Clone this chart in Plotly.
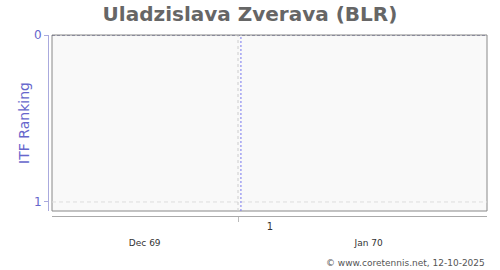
import plotly.graph_objects as go

# ---- data ----
player_title = "Uladzislava Zverava (BLR)"
rank_dates = []          # no ranking points recorded
rank_values = []
x_range = ["1969-12-02 10:00", "1970-02-02 14:00"]
month_ticks = ["1969-12-15 16:00", "1970-01-16 16:00"]
month_labels = ["Dec 69", "Jan 70"]
week_ticks = ["1969-12-29 00:00"]
week_labels = ["1"]
marker_dates = ["1969-12-29 10:00"]
y_ticks = [0, 1]
y_range = [1.054, 0]
credit = "© www.coretennis.net, 12-10-2025"

W, H = 500, 270
ml, mr, mt, mb = 48, 13, 35, 54
pw = W - ml - mr
ph = H - mt - mb
x0 = 4 / pw
y0 = 5 / ph

fig = go.Figure()
fig.add_trace(go.Scatter(x=rank_dates, y=rank_values, mode="lines+markers",
                         line=dict(color="#6666cc"), showlegend=False))
fig.add_trace(go.Scatter(x=month_ticks, y=[None] * len(month_ticks), xaxis="x2",
                         mode="markers", showlegend=False, hoverinfo="skip"))

fig.update_layout(
    width=W, height=H,
    margin=dict(l=ml, r=mr, t=mt, b=mb),
    paper_bgcolor="white", plot_bgcolor="white",
    font=dict(family="DejaVu Sans", size=10, color="#333"),
    title=dict(text="<b>" + player_title + "</b>", x=0.5, xanchor="center",
               y=1 - 14 / H, yanchor="middle",
               font=dict(size=20, color="#666", family="DejaVu Sans")),
    xaxis=dict(type="date", range=x_range, domain=[x0, 1], anchor="free", position=0,
               showline=True, linecolor="#aaa", linewidth=1,
               tickmode="array", tickvals=week_ticks, ticktext=week_labels,
               ticks="outside", ticklen=5, tickcolor="#bbb",
               ticklabelshift=32, ticklabelstandoff=-4,
               tickfont=dict(size=10, color="#333"),
               showgrid=False, zeroline=False),
    xaxis2=dict(type="date", range=x_range, domain=[x0, 1], overlaying="x",
                anchor="free", position=0, side="bottom",
                tickmode="array", tickvals=month_ticks, ticktext=month_labels,
                ticks="", showline=False, showgrid=False, zeroline=False,
                ticklabelstandoff=20, tickfont=dict(size=9, color="#333")),
    yaxis=dict(range=y_range, domain=[y0, 1], anchor="free", position=0,
               tickmode="array", tickvals=y_ticks,
               ticks="outside", ticklen=4, tickcolor="#aaaadd",
               showline=True, linecolor="#aaaadd", linewidth=1,
               tickfont=dict(size=12, color="#6666cc"),
               title=dict(text="ITF Ranking", font=dict(size=14, color="#6666cc"), standoff=0),
               showgrid=False, zeroline=False),
)

# plot frame
fig.add_shape(type="rect", xref="paper", yref="paper", x0=x0, x1=1, y0=y0, y1=1,
              line=dict(color="#888", width=1), fillcolor="#f9f9f9", layer="below")
# horizontal grid lines
for v in y_ticks:
    fig.add_shape(type="line", xref="paper", yref="y", x0=x0, x1=1, y0=v, y1=v,
                  line=dict(color="#555577" if v == 0 else "#dddddd", width=1,
                            dash="3px,2px" if v == 0 else "4px,3px"))
# vertical grid at week tick
for d in week_ticks:
    fig.add_shape(type="line", xref="x", yref="paper", x0=d, x1=d, y0=y0, y1=1,
                  line=dict(color="#cccccc", width=1, dash="3px,3px"))
for d in marker_dates:
    fig.add_shape(type="line", xref="x", yref="paper", x0=d, x1=d, y0=y0, y1=1,
                  line=dict(color="#7777ee", width=1, dash="2px,2px"))

fig.add_annotation(text=credit, xref="paper", yref="paper", x=1, y=(H - 263 - mb) / ph,
                   xanchor="right", yanchor="middle", showarrow=False,
                   font=dict(size=9, color="#555"))

fig.write_html("out.html")
